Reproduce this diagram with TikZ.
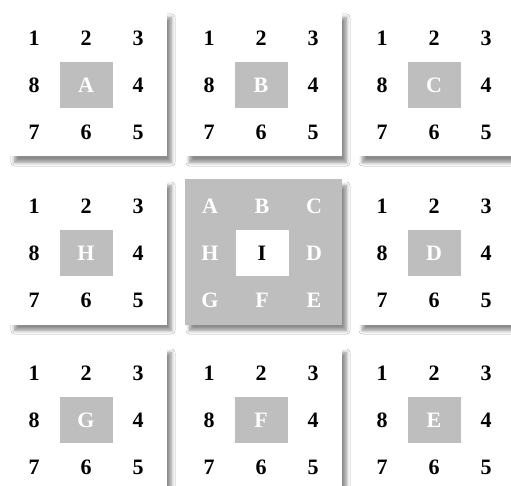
\documentclass[tikz,border=0pt]{standalone}
\usepackage{fontspec}
\setmainfont{Liberation Serif}
\usetikzlibrary{shadows.blur}

\definecolor{cellgray}{HTML}{BEBEBE}

\tikzset{
  panel/.style={fill=white, minimum width=157pt, minimum height=145pt, inner sep=0pt,
    blur shadow={shadow xshift=5pt, shadow yshift=-6pt, shadow blur radius=3.5pt,
      shadow blur steps=8, shadow opacity=45}},
  hotpanel/.style={panel, fill=cellgray},
  core/.style={fill=cellgray, minimum width=53pt, minimum height=46pt, inner sep=0pt,
    font=\bfseries\fontsize{22}{22}\selectfont, text=white},
  num/.style={font=\bfseries\fontsize{22}{22}\selectfont, text=black},
  letter/.style={font=\bfseries\fontsize{22}{22}\selectfont, text=white},
}

\begin{document}
\begin{tikzpicture}[x=1pt, y=-1pt]
  \fill[white] (0,0) rectangle (511,486);
  \useasboundingbox (0,0) rectangle (511,486);

  % eight neighbour panels
  \foreach \cx/\cy/\lab in {86/85/A, 261/85/B, 434/85/C, 86/253/H, 434/253/D, 86/420/G, 261/420/F, 434/420/E} {
    \node[panel] (p\lab) at (\cx+2,\cy-1) {};
    \node[core] (c\lab) at (\cx,\cy) {\lab};
    \foreach \n/\dx/\dy in {1/-52/-47, 2/0/-47, 3/52/-47, 4/52/0, 5/52/47, 6/0/47, 7/-52/47, 8/-52/0}
      \node[num] (n\lab\n) at (\cx+\dx,\cy+\dy) {\n};
  }

  % centre panel
  \node[hotpanel] (pI) at (263,252) {};
  \node[core, fill=white, text=black] (cI) at (262,253) {I};
  \foreach \n/\dx/\dy in {A/-52/-47, B/0/-47, C/52/-47, D/52/0, E/52/47, F/0/47, G/-52/47, H/-52/0}
    \node[letter] (l\n) at (262+\dx,253+\dy) {\n};
\end{tikzpicture}
\end{document}
